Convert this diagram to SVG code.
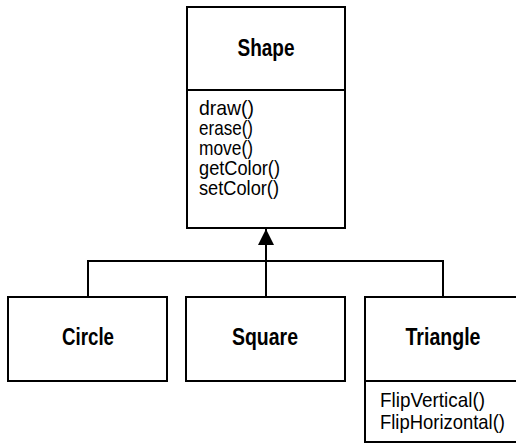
<svg xmlns="http://www.w3.org/2000/svg" width="516" height="443" viewBox="0 0 516 443">
<style>
.box{fill:#fff;stroke:#000;stroke-width:2}
.ln{fill:none;stroke:#000;stroke-width:2}
.title{font-family:"Liberation Sans Narrow","Liberation Sans",Arial,sans-serif;font-weight:bold;font-size:24px;text-anchor:middle;fill:#000}
.m{font-family:"Liberation Sans Narrow","Liberation Sans",Arial,sans-serif;font-size:21px;fill:#000}
</style>
<defs>
<marker id="arr" markerWidth="18" markerHeight="16" refX="16" refY="8" orient="auto" markerUnits="userSpaceOnUse">
<path d="M0,0 L16,8 L0,16 Z" fill="#000"/>
</marker>
</defs>
<g id="connectors">
<polyline class="ln" points="88,297 88,261 443,261 443,297"/>
<line class="ln" x1="266" y1="297" x2="266" y2="229" marker-end="url(#arr)"/>
</g>
<g id="shape">
<rect class="box" x="187" y="7" width="158" height="221"/>
<line class="ln" x1="187" y1="90" x2="345" y2="90"/>
<text class="title" x="266" y="56" textLength="57" lengthAdjust="spacingAndGlyphs">Shape</text>
<text class="m" x="199" y="115" textLength="55" lengthAdjust="spacingAndGlyphs">draw()</text>
<text class="m" x="199" y="135" textLength="54" lengthAdjust="spacingAndGlyphs">erase()</text>
<text class="m" x="199" y="155" textLength="54" lengthAdjust="spacingAndGlyphs">move()</text>
<text class="m" x="199" y="175" textLength="81" lengthAdjust="spacingAndGlyphs">getColor()</text>
<text class="m" x="199" y="195" textLength="80" lengthAdjust="spacingAndGlyphs">setColor()</text>
</g>
<g id="circle">
<rect class="box" x="8" y="297" width="159" height="84"/>
<text class="title" x="88" y="345" textLength="52" lengthAdjust="spacingAndGlyphs">Circle</text>
</g>
<g id="square">
<rect class="box" x="186" y="297" width="159" height="84"/>
<text class="title" x="265" y="345" textLength="66" lengthAdjust="spacingAndGlyphs">Square</text>
</g>
<g id="triangle">
<rect class="box" x="365" y="297" width="160" height="145"/>
<line class="ln" x1="365" y1="381" x2="525" y2="381"/>
<text class="title" x="443" y="345" textLength="75" lengthAdjust="spacingAndGlyphs">Triangle</text>
<text class="m" x="380" y="407" textLength="105" lengthAdjust="spacingAndGlyphs">FlipVertical()</text>
<text class="m" x="380" y="429" textLength="125" lengthAdjust="spacingAndGlyphs">FlipHorizontal()</text>
</g>
</svg>
